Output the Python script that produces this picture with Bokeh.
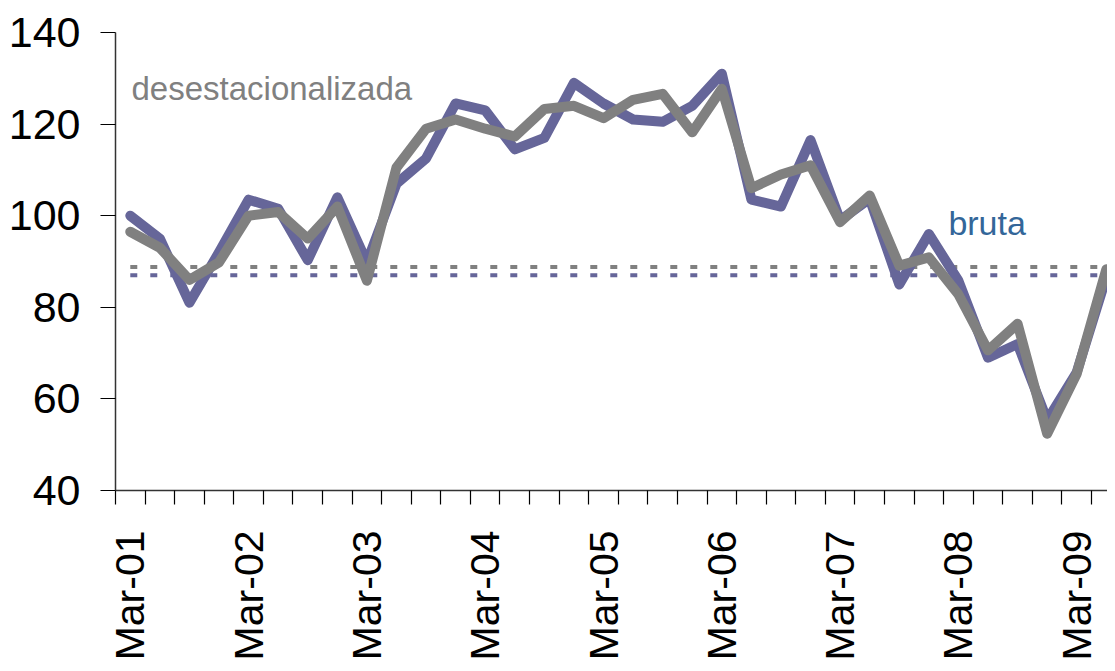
import math
from bokeh.plotting import figure
from bokeh.models import FixedTicker, Range1d, Label
from bokeh.embed import file_html
from bokeh.resources import INLINE

# Quarterly data, Mar-01 .. Jun-09
year_labels = ["Mar-01", "Mar-02", "Mar-03", "Mar-04", "Mar-05",
               "Mar-06", "Mar-07", "Mar-08", "Mar-09"]

bruta = [100.0, 95.0, 81.0, 92.0, 103.5, 101.5, 90.3, 104.0, 89.8,
         107.0, 112.5, 124.5, 123.0, 114.5, 117.0, 129.0, 124.5, 121.0,
         120.5, 124.0, 131.0, 103.5, 102.0, 116.5, 99.0, 103.7, 85.0,
         96.0, 85.8, 69.0, 72.0, 55.3, 65.8, 86.6]

desestacionalizada = [96.5, 93.0, 86.0, 89.8, 100.0, 100.8, 95.0, 102.0, 85.8,
                      110.5, 119.0, 121.0, 119.0, 117.3, 123.3, 124.0, 121.3, 125.3,
                      126.6, 118.2, 127.7, 106.0, 109.0, 111.0, 98.6, 104.4, 89.1,
                      90.9, 82.8, 70.6, 76.4, 52.4, 65.5, 88.3]

bruta_ref = 87.0
desest_ref = 88.8

y_ticks = [40, 60, 80, 100, 120, 140]

BLUE = "#666699"
GRAY = "#808080"

n = len(bruta)
x = list(range(n))

p = figure(width=1107, height=663, output_backend="svg", toolbar_location=None,
           x_range=Range1d(-0.5, 33.04), y_range=Range1d(40, 140),
           min_border_left=115, min_border_right=0, min_border_top=32,
           min_border_bottom=173)
p.outline_line_color = None
p.grid.visible = False
p.background_fill_color = "white"
p.border_fill_color = "white"

# reference (dashed) lines
p.line(x, [bruta_ref] * n, line_color=BLUE, line_width=4, line_dash="7 13")
p.line(x, [desest_ref] * n, line_color=GRAY, line_width=4, line_dash="7 13")

# series
p.line(x, bruta, line_color=BLUE, line_width=10, line_join="round", line_cap="round")
p.line(x, desestacionalizada, line_color=GRAY, line_width=10, line_join="round", line_cap="round")

# x axis
xa = p.xaxis[0]
xa.ticker = FixedTicker(ticks=[4 * i for i in range(len(year_labels))],
                        minor_ticks=[k - 0.5 for k in range(n + 1)])
xa.major_label_overrides = {4 * i: lab for i, lab in enumerate(year_labels)}
xa.major_tick_out = 0
xa.major_tick_in = 0
xa.minor_tick_out = 14
xa.minor_tick_in = 0
xa.minor_tick_line_color = "#000000"
xa.minor_tick_line_width = 1.2
xa.axis_line_color = "#333333"
xa.axis_line_width = 1.5
xa.major_label_orientation = math.pi / 2
xa.major_label_text_font = "Liberation Sans"
xa.major_label_text_font_size = "41px"
xa.major_label_text_color = "#000000"
xa.major_label_standoff = 26

# y axis
ya = p.yaxis[0]
ya.ticker = FixedTicker(ticks=y_ticks, minor_ticks=[])
ya.major_tick_out = 15
ya.major_tick_in = 0
ya.major_tick_line_color = "#000000"
ya.major_tick_line_width = 1.2
ya.minor_tick_out = 0
ya.minor_tick_in = 0
ya.axis_line_color = "#333333"
ya.axis_line_width = 1.5
ya.major_label_text_font = "Liberation Sans"
ya.major_label_text_font_size = "43px"
ya.major_label_text_color = "#000000"
ya.major_label_standoff = 20

# series labels
p.add_layout(Label(x=0.04, y=127.8, text="desestacionalizada", text_font="Liberation Sans",
                   text_font_size="33px", text_color=GRAY, text_baseline="alphabetic"))
p.add_layout(Label(x=27.66, y=98.3, text="bruta", text_font="Liberation Sans",
                   text_font_size="34px", text_color="#336699", text_baseline="alphabetic"))

open("out.html", "w").write(file_html(p, INLINE))
